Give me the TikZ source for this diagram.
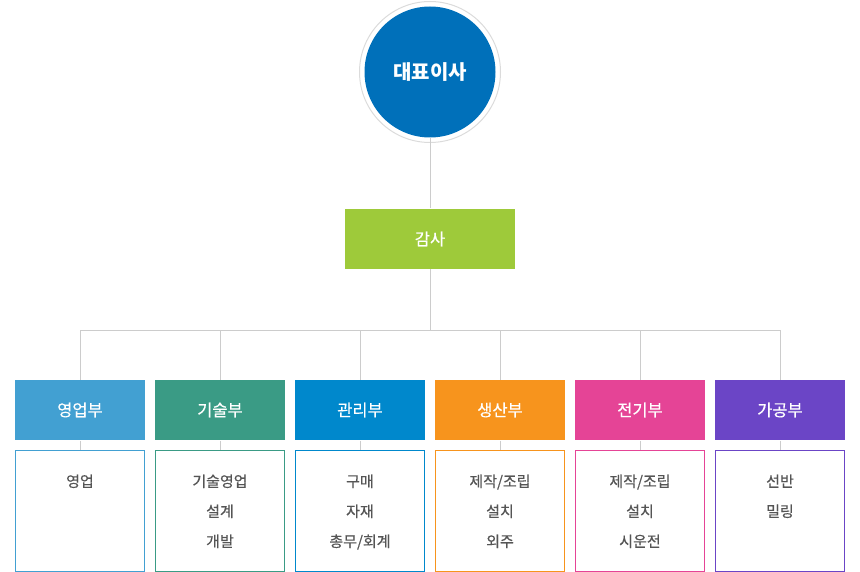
\documentclass[tikz,border=0pt]{standalone}
\usepackage{fontspec}
\setmainfont{Noto Sans CJK KR}
\newfontfamily\medfont[FakeBold=0.4]{Noto Sans CJK KR}
\usepackage{tikz}
\definecolor{ceoBlue}{HTML}{0070BA}
\definecolor{auditGreen}{HTML}{9ECA3A}
\definecolor{salesBlue}{HTML}{42A0D2}
\definecolor{techGreen}{HTML}{3A9B85}
\definecolor{adminBlue}{HTML}{0088CC}
\definecolor{prodOrange}{HTML}{F7941D}
\definecolor{elecPink}{HTML}{E54496}
\definecolor{machPurple}{HTML}{6B45C6}
\definecolor{lineGray}{HTML}{CCCCCC}
\definecolor{textGray}{HTML}{555555}
\tikzstyle{head}=[
	circle,
	minimum size=131pt,
	inner sep=0pt,
	fill=ceoBlue,
	text=white,
	font=\fontsize{20}{22}\selectfont\bfseries
]
\tikzstyle{dept}=[
	rectangle,
	minimum width=130pt,
	minimum height=60pt,
	inner sep=0pt,
	text=white,
	font=\medfont\fontsize{16.5}{18}\selectfont
]
\tikzstyle{duty}=[
	rectangle,
	minimum width=129pt,
	minimum height=121pt,
	inner sep=0pt,
	line width=1pt,
	fill=white
]
\tikzstyle{tasks}=[
	anchor=north,
	align=center,
	inner sep=0pt,
	text=textGray,
	font=\medfont\fontsize{15}{30}\selectfont
]

\begin{document}
\begin{tikzpicture}[x=1pt,y=-1pt,line width=1pt,draw=lineGray]
\useasboundingbox (0,0) rectangle (860,572);

% CEO
\node[head] (ceo) at (430,72){대표이사};
\draw[lineGray!70] (ceo.center) circle (70.5pt);

% Audit
\node[dept,fill=auditGreen,minimum width=170pt] (audit) at (430,239){감사};
\coordinate (bus) at (430,330);

% Departments
\node[dept,fill=salesBlue] (sales) at (80,410){영업부};
\node[dept,fill=techGreen] (tech) at (220,410){기술부};
\node[dept,fill=adminBlue] (admin) at (360,410){관리부};
\node[dept,fill=prodOrange] (prod) at (500,410){생산부};
\node[dept,fill=elecPink] (elec) at (640,410){전기부};
\node[dept,fill=machPurple] (mach) at (780,410){가공부};

% Duty boxes
\node[duty,draw=salesBlue] (salesT) at (80,511){};
\node[duty,draw=techGreen] (techT) at (220,511){};
\node[duty,draw=adminBlue] (adminT) at (360,511){};
\node[duty,draw=prodOrange] (prodT) at (500,511){};
\node[duty,draw=elecPink] (elecT) at (640,511){};
\node[duty,draw=machPurple] (machT) at (780,511){};

% Duty texts
\node[tasks] (salesL) at (80,474){영업};
\node[tasks] (techL) at (220,474){기술영업\\설계\\개발};
\node[tasks] (adminL) at (360,474){구매\\자재\\총무/회계};
\node[tasks] (prodL) at (500,474){제작/조립\\설치\\외주};
\node[tasks] (elecL) at (640,474){제작/조립\\설치\\시운전};
\node[tasks] (machL) at (780,474){선반\\밀링};

% Connectors
\draw (ceo) -- (audit);
\draw (audit) -- (bus);
\draw (bus) -| (sales);
\draw (bus) -| (tech);
\draw (bus) -| (admin);
\draw (bus) -| (prod);
\draw (bus) -| (elec);
\draw (bus) -| (mach);
\draw (sales) -- (salesT);
\draw (tech) -- (techT);
\draw (admin) -- (adminT);
\draw (prod) -- (prodT);
\draw (elec) -- (elecT);
\draw (mach) -- (machT);

\end{tikzpicture}
\end{document}
